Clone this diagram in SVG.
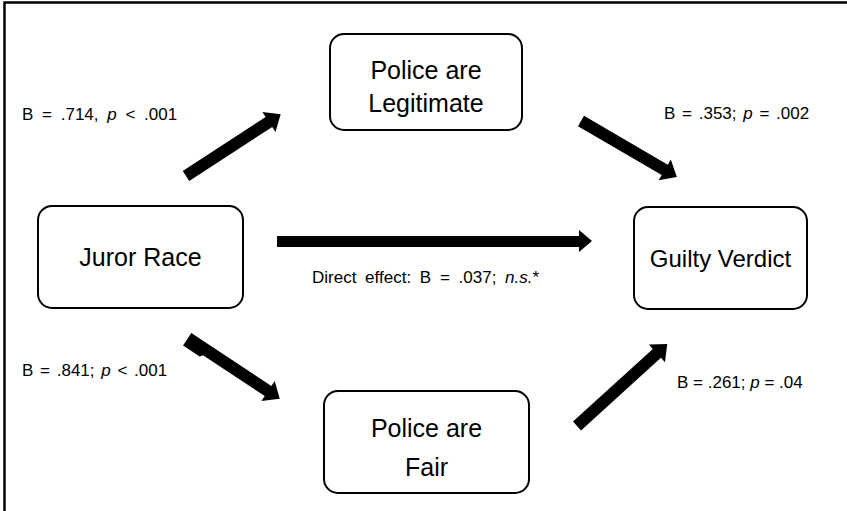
<svg xmlns="http://www.w3.org/2000/svg" width="847" height="511" viewBox="0 0 847 511">
<style>
.node rect{fill:#fff;stroke:#000;stroke-width:2}
.nt{font-family:"Liberation Sans",Arial,sans-serif;font-size:25px;fill:#000;text-anchor:middle}
.lb{font-family:"Liberation Sans",Arial,sans-serif;font-size:17px;fill:#000;word-spacing:2px}
.arr{fill:#000}
</style>
<rect width="847" height="511" fill="#fff"/>
<path d="M4.5,511 V2.5 H847" fill="none" stroke="#000" stroke-width="2.5"/>
<g id="legit" class="node">
<rect x="330" y="34" width="192" height="96" rx="14"/>
<text class="nt" x="426" y="79">Police are</text>
<text class="nt" x="426" y="112">Legitimate</text>
</g>
<g id="juror" class="node">
<rect x="38" y="206" width="205" height="102" rx="14"/>
<text class="nt" x="140.5" y="266">Juror Race</text>
</g>
<g id="guilty" class="node">
<rect x="634" y="207" width="173" height="102" rx="14"/>
<text class="nt" x="720.5" y="267" style="font-size:24px">Guilty Verdict</text>
</g>
<g id="fair" class="node">
<rect x="324" y="391" width="205" height="102" rx="14"/>
<text class="nt" x="426.5" y="437">Police are</text>
<text class="nt" x="426.5" y="476">Fair</text>
</g>
<g id="connectors">
<path class="arr" transform="translate(186,176) rotate(-33.1)" d="M0,-6 H99 V-12 L113,0 L99,12 V6 H0 Z"/>
<path class="arr" transform="translate(581,121) rotate(30.3)" d="M0,-6 H97 V-12 L111,0 L97,12 V6 H0 Z"/>
<path class="arr" d="M277,236 H579 V230 L592,241 L579,252 V247 H277 Z"/>
<path class="arr" transform="translate(188,338) rotate(33.5)" d="M0,-6 H96 V-12 L110,0 L96,12 V6 H22 L20,9 H0 Z"/>
<path class="arr" transform="translate(577,426) rotate(-42.3)" d="M0,-6 H108 V-12 L122,0 L108,12 V6 H0 Z"/>
</g>
<g id="labels">
<text class="lb" x="22" y="120" style="word-spacing:4px">B = .714, <tspan font-style="italic">p</tspan> &lt; .001</text>
<text class="lb" x="664" y="119">B = .353; <tspan font-style="italic">p</tspan> = .002</text>
<text class="lb" x="312" y="283" style="word-spacing:4px">Direct effect: B  = .037; <tspan font-style="italic">n.s.</tspan>*</text>
<text class="lb" x="22" y="376">B = .841; <tspan font-style="italic">p</tspan> &lt; .001</text>
<text class="lb" x="677" y="388" style="word-spacing:0px">B = .261; <tspan font-style="italic">p</tspan> = .04</text>
</g>
</svg>
